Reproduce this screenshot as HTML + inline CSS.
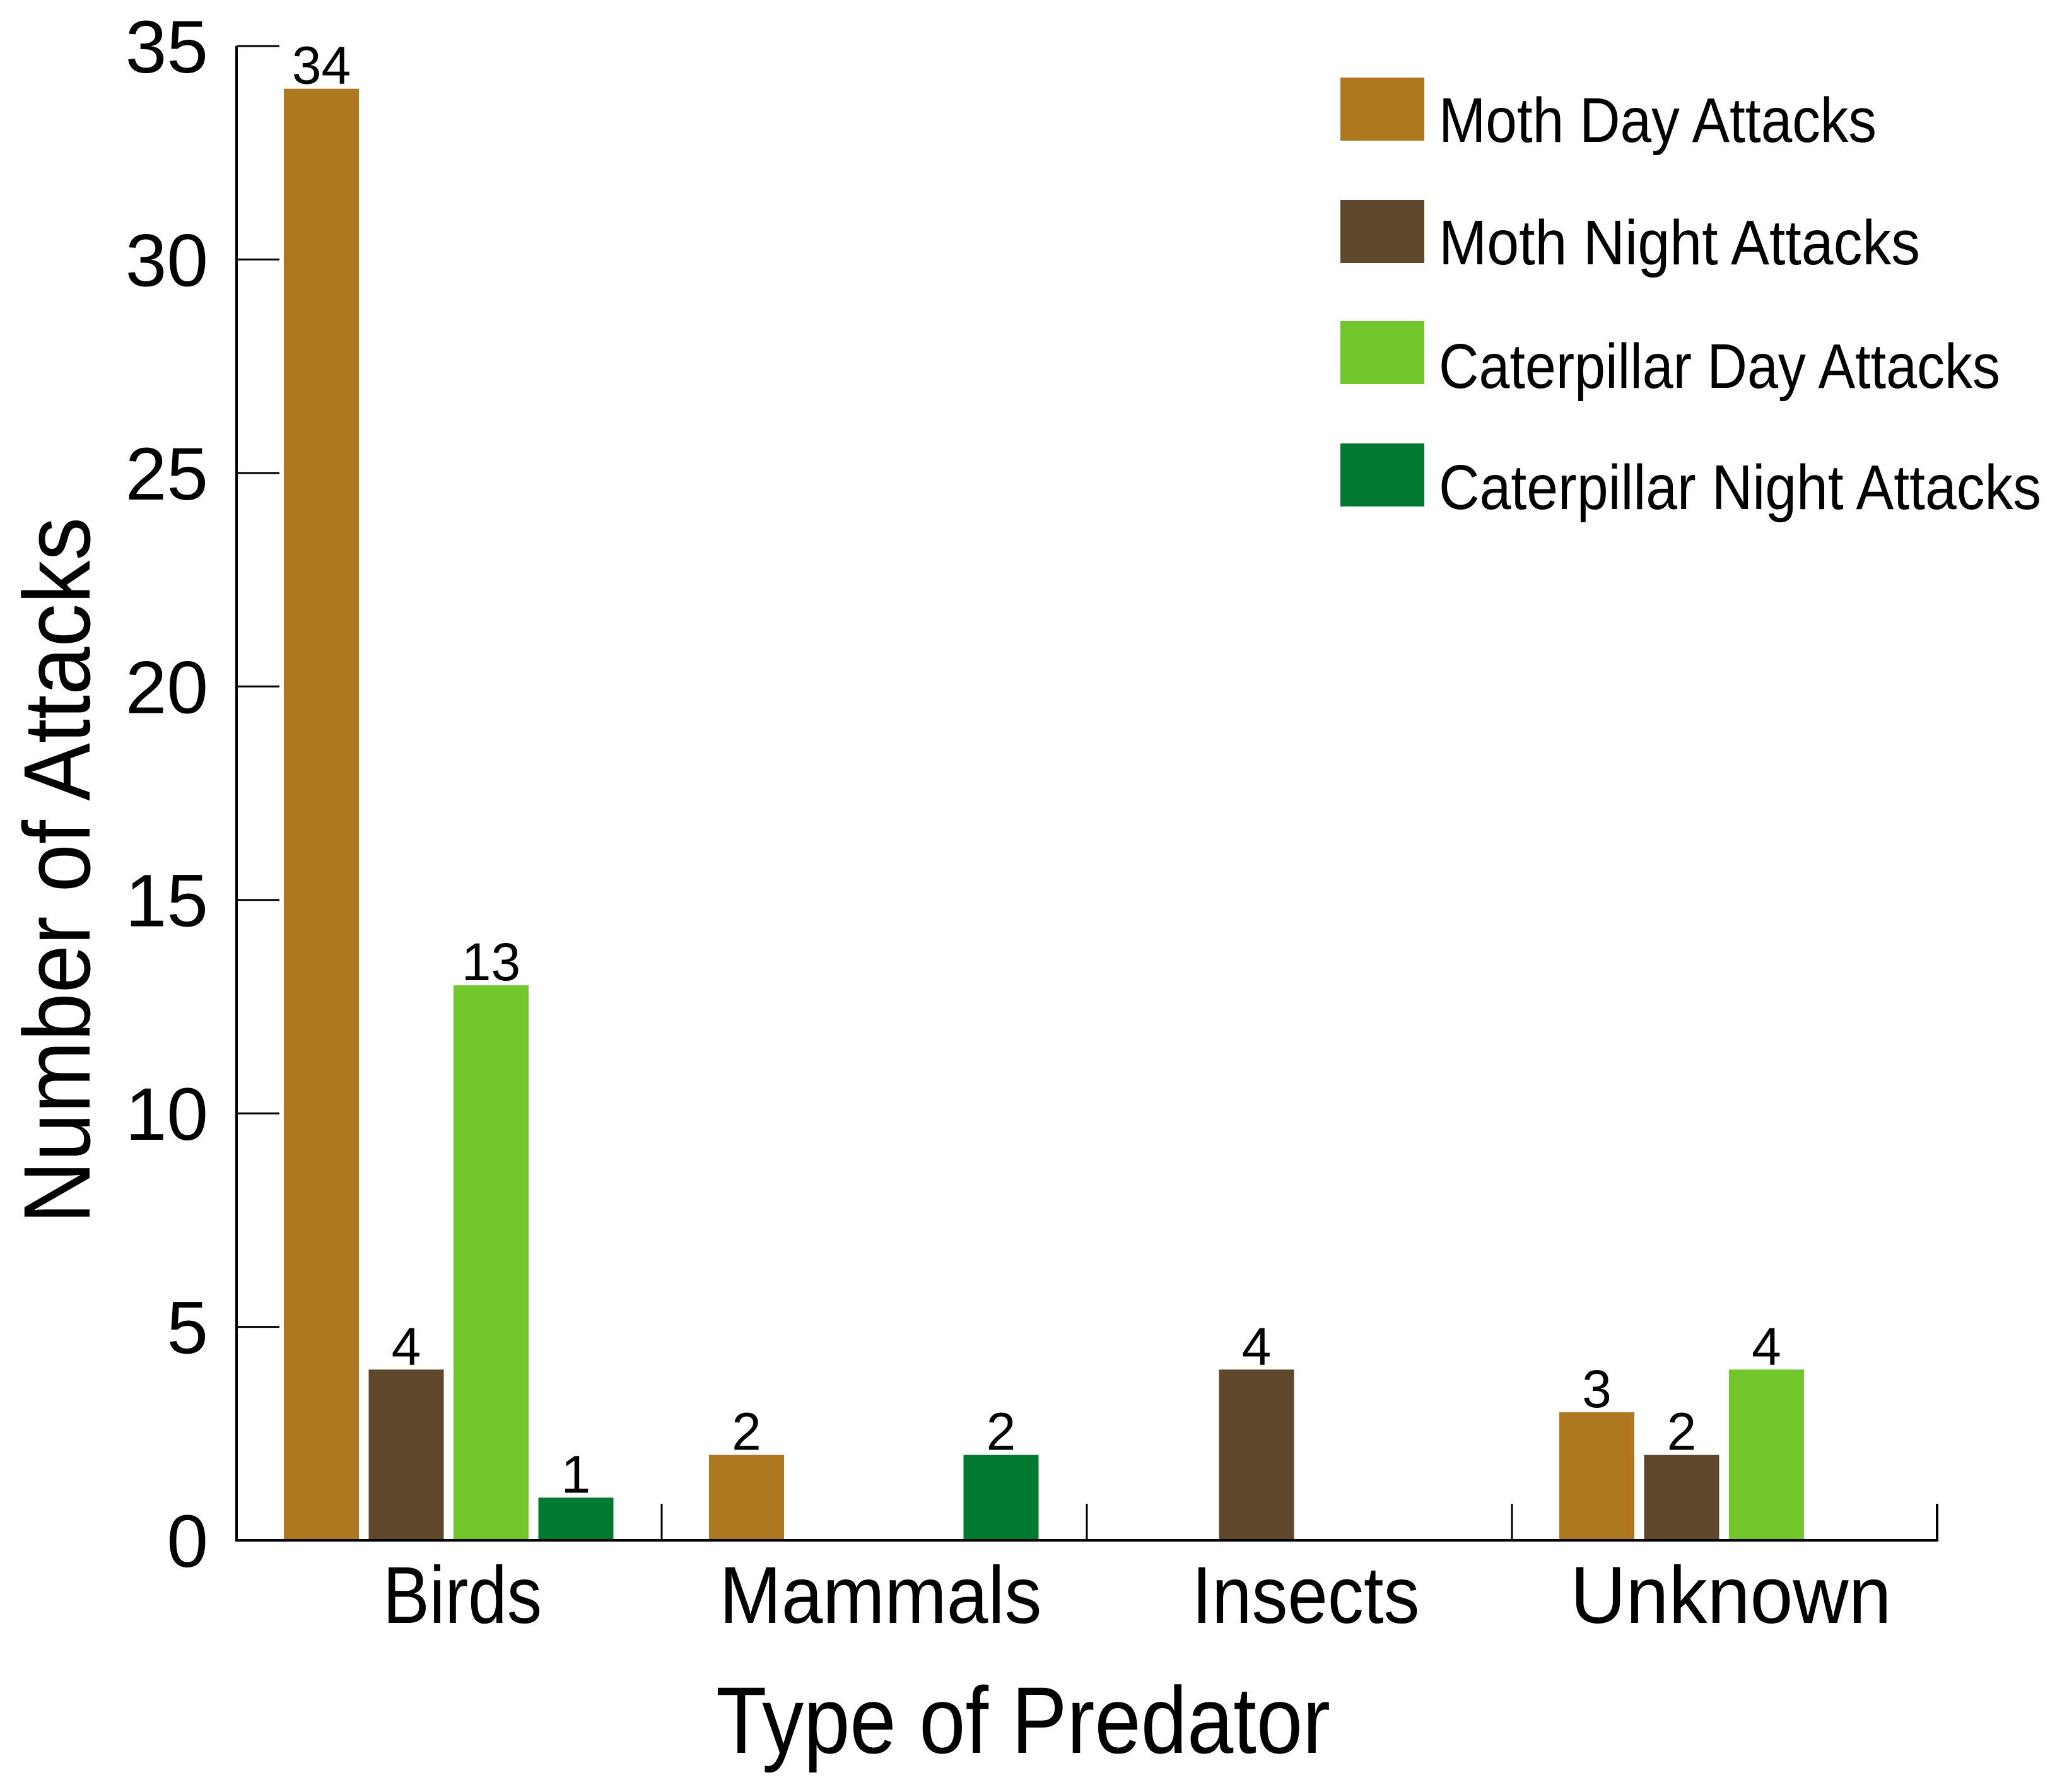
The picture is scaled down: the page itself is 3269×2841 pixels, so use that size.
<!DOCTYPE html>
<html><head><meta charset="utf-8"><style>html,body{margin:0;padding:0;background:#fff}svg{display:block}text{font-family:"Liberation Sans",sans-serif;fill:#000}</style></head>
<body>
<svg id="chart" width="3269" height="2841" viewBox="0 0 3269 2841" xmlns="http://www.w3.org/2000/svg"></svg>
<script>
const categories = ["Birds", "Mammals", "Insects", "Unknown"];
const seriesNames = ["Moth Day Attacks", "Moth Night Attacks", "Caterpillar Day Attacks", "Caterpillar Night Attacks"];
const mothDay = [34, 2, 0, 3];
const mothNight = [4, 0, 4, 2];
const caterpillarDay = [13, 0, 0, 4];
const caterpillarNight = [1, 2, 0, 0];
const yTicks = [0, 5, 10, 15, 20, 25, 30, 35];

const series = [mothDay, mothNight, caterpillarDay, caterpillarNight];
const colors = ["#AD781F", "#5F472B", "#72C72C", "#007A31"];
const NS = "http://www.w3.org/2000/svg";
const svg = document.getElementById("chart");
const X0 = 375, Y0 = 2442, YTOP = 73, GW = 674, BW = 119, STEP = 134.5, OFF = 75;
const yMax = 35;
function y(v){ return Y0 - (v / yMax) * (Y0 - YTOP); }
function groupX(i){ return X0 + i * GW; }
function barX(g, s){ return groupX(g) + OFF + s * STEP; }
function mk(tag, attrs, parent){ const e = document.createElementNS(NS, tag); for (const k in attrs) e.setAttribute(k, attrs[k]); (parent || svg).appendChild(e); return e; }

// bars
series.forEach((vals, s) => {
  vals.forEach((v, g) => {
    if (v <= 0) return;
    const r = mk("rect", {x: barX(g, s), y: y(v), width: BW, height: Y0 - y(v), fill: colors[s]});
    
    
    const t = mk("text", {x: barX(g, s) + BW / 2, y: y(v) - 8, "font-size": 84, "text-anchor": "middle"});
    t.textContent = String(v);
    
    
  });
});

// axes
const ax = mk("path", {d: `M${X0} ${YTOP} V${Y0} H${groupX(4)} V${Y0 - 58}`, stroke: "#000", "stroke-width": 4, fill: "none"});


for (let i = 1; i < 4; i++) {
  const l = mk("line", {x1: groupX(i), x2: groupX(i), y1: Y0, y2: Y0 - 58, stroke: "#000", "stroke-width": 3});
  
  
}
yTicks.forEach(v => {
  if (v > 0) {
    const l = mk("line", {x1: X0, x2: X0 + 68, y1: y(v), y2: y(v), stroke: "#000", "stroke-width": 3});
    
    
  }
  const t = mk("text", {x: 330, y: y(v) + 42, "font-size": 118, "text-anchor": "end"});
  t.textContent = String(v);
  
  
});
const catW = [252, 511, 361, 509];
const catShift = [21, 10, 10, 10];
categories.forEach((c, i) => {
  const t = mk("text", {x: groupX(i) + GW / 2 + catShift[i], y: 2573, "font-size": 128, "text-anchor": "middle", textLength: catW[i], lengthAdjust: "spacingAndGlyphs"});
  t.textContent = c;
  
  
});
const xt = mk("text", {x: 1622, y: 2779, "font-size": 150, "text-anchor": "middle", textLength: 974, lengthAdjust: "spacingAndGlyphs"});
xt.textContent = "Type of Predator";


const yt = mk("text", {x: 0, y: 0, "font-size": 150, "text-anchor": "middle", textLength: 1120, lengthAdjust: "spacingAndGlyphs", transform: "translate(142,1380) rotate(-90)"});
yt.textContent = "Number of Attacks";



// legend
const legY = [123, 317, 509, 703];
const legTextY = [225, 419, 615, 807];
const legW = [694, 763, 890, 955];
seriesNames.forEach((n, i) => {
  const g = mk("g", {});
  
  
  const r = mk("rect", {x: 2125, y: legY[i], width: 133, height: 100, fill: colors[i]}, g);
  
  
  const t = mk("text", {x: 2281, y: legTextY[i], "font-size": 100, textLength: legW[i], lengthAdjust: "spacingAndGlyphs"}, g);
  t.textContent = n;
  
  
});
</script>
</body></html>
